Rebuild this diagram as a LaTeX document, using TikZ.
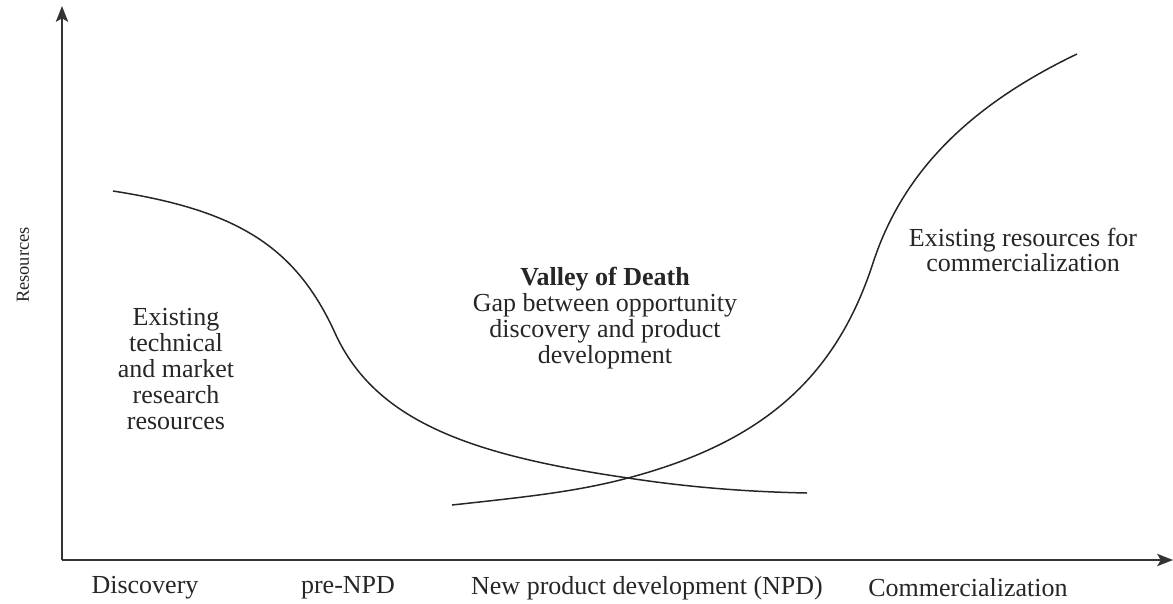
\documentclass[tikz,border=0pt]{standalone}
\usepackage{fontspec}
\setmainfont{Liberation Serif}
\usetikzlibrary{arrows.meta}
\tikzset{
  axis/.style={line width=1.1pt, draw=black!80, -{Stealth[length=9pt,width=7pt,inset=2pt]}},
  curve/.style={line width=0.85pt, draw=black!85},
  lbl/.style={align=center, inner sep=0pt, font=\fontsize{14.8}{14.7}\selectfont, text=black!85},
  axlbl/.style={inner sep=0pt, font=\fontsize{14.8}{15}\selectfont, text=black!85},
}
\begin{document}
\begin{tikzpicture}[x=0.02cm,y=-0.02cm]
\useasboundingbox (0,0) rectangle (1173,603);
\coordinate (O) at (62,560);
\coordinate (ytip) at (62,6);
\coordinate (xtip) at (1173,560);
\draw[axis] (O) -- (ytip);
\draw[axis] (O) -- (xtip);
\node[rotate=90, inner sep=0pt, font=\fontsize{10.5}{12}\selectfont, text=black!85] (res) at (23,265) {Resources};
% curves
\draw[curve] (113,191) .. controls (235,210) and (295,245) .. (335,333)
  .. controls (375,421) and (470,455) .. (628,478)
  .. controls (700,489) and (760,492) .. (807,493);
\draw[curve] (452,505) .. controls (525,497) and (575,492) .. (628,478)
  .. controls (760,443) and (835,380) .. (873,263)
  .. controls (900,180) and (960,110) .. (1077,54);
% texts
\node[lbl] (left) at (176,369) {Existing\\technical\\and market\\research\\resources};
\node[lbl] (valley) at (605,318) {\textbf{Valley of Death}\\Gap between opportunity\\discovery and product\\development};
\node[lbl] (right) at (1023,250) {Existing resources for\\commercialization};
\node[axlbl] (d1) at (145,588) {Discovery};
\node[axlbl] (d2) at (348,588) {pre-NPD};
\node[axlbl] (d3) at (647,588) {New product development (NPD)};
\node[axlbl] (d4) at (968,588) {Commercialization};
\end{tikzpicture}
\end{document}
